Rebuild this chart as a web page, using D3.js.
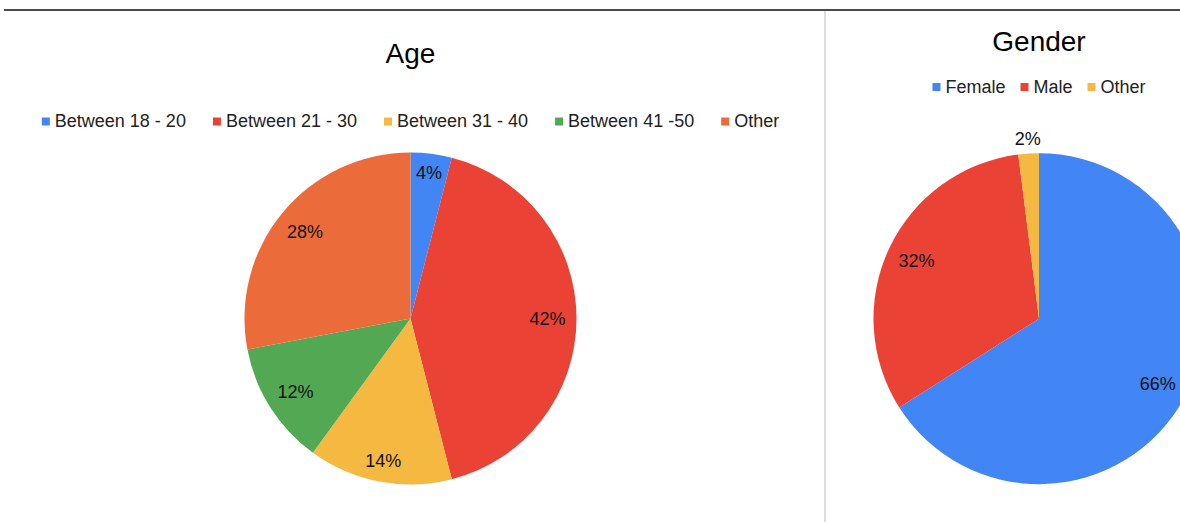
<!DOCTYPE html>
<html>
<head>
<meta charset="utf-8">
<script src="https://cdn.jsdelivr.net/npm/d3@7"></script>
<style>
  html, body { margin: 0; padding: 0; background: #fff; }
  svg { display: block; font-family: "Liberation Sans", Arial, Helvetica, sans-serif; }
</style>
</head>
<body>
<svg id="chart" width="1180" height="522"></svg>
<script>
// ---- data ----
const ageCategories = ["Between 18 - 20", "Between 21 - 30", "Between 31 - 40", "Between 41 -50", "Other"];
const ageValues = [4, 42, 14, 12, 28];
const ageColors = ["#4285F4", "#EA4335", "#F5B942", "#53A853", "#EB6C3A"];

const genderCategories = ["Female", "Male", "Other"];
const genderValues = [66, 32, 2];
const genderColors = ["#4285F4", "#EA4335", "#F5B942"];

const svg = d3.select("#chart");

// frame lines
svg.append("line").attr("x1", 4).attr("x2", 1180).attr("y1", 10).attr("y2", 10)
  .attr("stroke", "#4a4a4a").attr("stroke-width", 2);
svg.append("line").attr("x1", 825).attr("x2", 825).attr("y1", 11).attr("y2", 522)
  .attr("stroke", "#dddddd").attr("stroke-width", 2);

function drawPie(opts) {
  const { title, categories, values, colors, cx, cy, r, titleY, legendY, legendGap } = opts;
  const g = svg.append("g");

  g.append("text").attr("x", cx).attr("y", titleY).attr("text-anchor", "middle")
    .attr("font-size", 28).attr("fill", "#000").text(title);

  // legend
  const leg = g.append("g");
  const items = leg.selectAll("g").data(categories).enter().append("g");
  items.append("rect").attr("width", 8).attr("height", 8).attr("y", -9.5)
    .attr("fill", (d, i) => colors[i]);
  items.append("text").attr("x", 13).attr("y", 0)
    .attr("font-size", 18).attr("fill", "#222").text(d => d);
  let x = 0;
  items.each(function(d, i) {
    const w = d3.select(this).select("text").node().getComputedTextLength();
    d3.select(this).attr("transform", `translate(${x},0)`);
    x += 13 + w + legendGap;
  });
  const total = x - legendGap;
  leg.attr("transform", `translate(${cx - total / 2},${legendY})`);

  // pie
  const data = values.map((v, i) => ({ v, i }));
  const pie = d3.pie().value(d => d.v).sort(null);
  const arc = d3.arc().innerRadius(0).outerRadius(r);
  const arcs = pie(data);
  const pg = g.append("g").attr("transform", `translate(${cx},${cy})`);
  pg.selectAll("path").data(arcs).enter().append("path")
    .attr("d", arc).attr("fill", d => colors[d.data.i]);

  const sum = d3.sum(values);
  pg.selectAll("text.lbl").data(arcs).enter().append("text")
    .attr("class", "lbl").attr("font-size", 18).attr("fill", "#111")
    .attr("text-anchor", "middle").attr("dy", "0.35em")
    .text(d => Math.round(d.data.v / sum * 100) + "%")
    .each(function(d) {
      const w = this.getComputedTextLength();
      const a = (d.startAngle + d.endAngle) / 2;
      const s = Math.sin(a), c = Math.cos(a);
      const proj = Math.abs(s) * w / 2 + Math.abs(c) * 6.5;
      const inside = d.data.v / sum >= 0.03;
      const dist = inside ? r - 11 - proj : r + 8 + proj;
      d3.select(this).attr("x", s * dist).attr("y", -c * dist);
    });
}

drawPie({ title: "Age", categories: ageCategories, values: ageValues, colors: ageColors,
  cx: 410.5, cy: 318.5, r: 166, titleY: 63, legendY: 127, legendGap: 27 });
drawPie({ title: "Gender", categories: genderCategories, values: genderValues, colors: genderColors,
  cx: 1039, cy: 318.7, r: 165.5, titleY: 51, legendY: 92.5, legendGap: 15 });
</script>
</body>
</html>
